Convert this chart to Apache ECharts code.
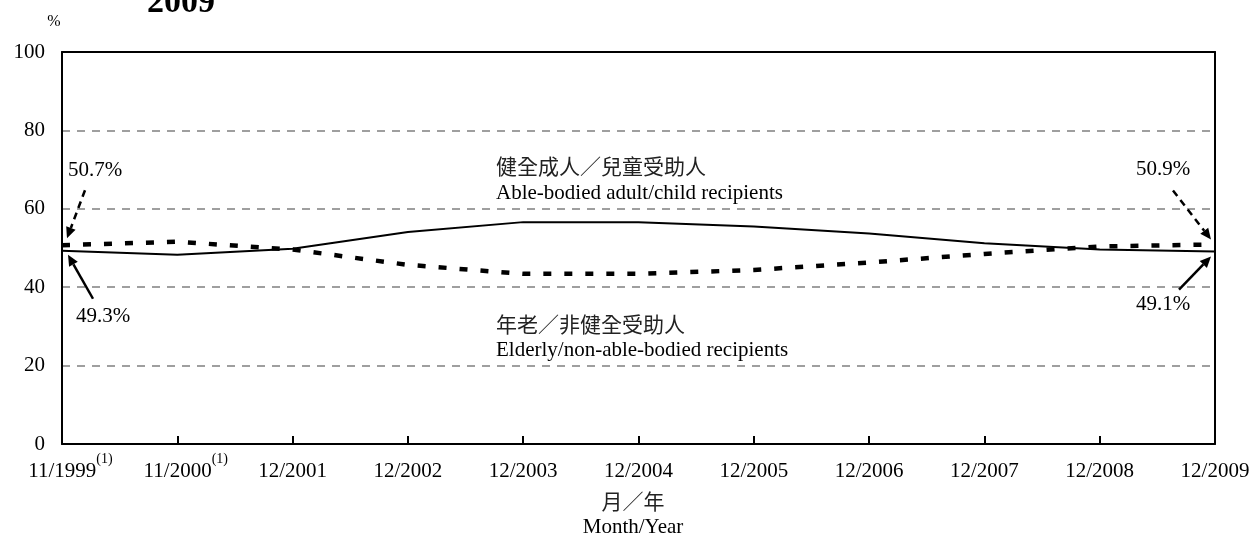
<!DOCTYPE html>
<html>
<head>
<meta charset="utf-8">
<script src="https://cdn.jsdelivr.net/npm/echarts@6/dist/echarts.min.js"></script>
<style>
html,body{margin:0;padding:0;background:#fff;}
#chart{width:1256px;height:543px;}
</style>
</head>
<body>
<div id="chart"></div>
<script>
// ---- data ----
const categories = ['11/1999','11/2000','12/2001','12/2002','12/2003','12/2004','12/2005','12/2006','12/2007','12/2008','12/2009'];
const footnoteMarks = ['(1)','(1)','','','','','','','','',''];
const ableBodied = [49.3, 48.3, 49.8, 54.1, 56.6, 56.6, 55.5, 53.7, 51.2, 49.6, 49.1];
const elderly    = [50.7, 51.6, 49.6, 45.7, 43.4, 43.4, 44.4, 46.3, 48.5, 50.4, 50.9];
const yMin = 0, yMax = 100, yStep = 20;
const seriesNames = ['健全成人／兒童受助人 Able-bodied adult/child recipients', '年老／非健全受助人 Elderly/non-able-bodied recipients'];

const SERIF = "'Liberation Serif','Times New Roman',serif";
const CJK = "'Noto Sans CJK TC','Noto Sans CJK SC',sans-serif";

const chart = echarts.init(document.getElementById('chart'), null, {renderer:'canvas'});

const option = {
  animation: false,
  backgroundColor: '#fff',
  grid: {left: 62, right: 41, top: 52, bottom: 99, containLabel: false},
  xAxis: [{
    type: 'category',
    data: categories,
    boundaryGap: false,
    axisLine: {show: true, lineStyle: {color: '#000', width: 2}},
    axisTick: {show: true, inside: true, length: 8, lineStyle: {color: '#000', width: 2}, alignWithLabel: true},
    splitLine: {show: false},
    axisLabel: {
      interval: 0,
      margin: 8,
      color: '#000',
      formatter: function (v, i) {
        const n = footnoteMarks[i];
        return n ? '{p|}{a|' + v + '}{s|' + n + '}' : '{q|}{a|' + v + '}';
      },
      rich: {
        a: {fontFamily: SERIF, fontSize: 21, color: '#000', lineHeight: 21, verticalAlign: 'bottom'},
        s: {fontFamily: SERIF, fontSize: 14, color: '#000', lineHeight: 14, verticalAlign: 'top'},
        p: {width: 17, height: 30, lineHeight: 30},
        q: {width: 0, height: 30, lineHeight: 30}
      }
    }
  }, {
    type: 'category',
    data: categories,
    boundaryGap: false,
    position: 'top',
    z: 5,
    axisLine: {show: true, onZero: false, lineStyle: {color: '#000', width: 2}},
    axisTick: {show: false},
    axisLabel: {show: false},
    splitLine: {show: false}
  }],
  yAxis: [{
    type: 'value',
    min: yMin, max: yMax, interval: yStep,
    axisLine: {show: true, lineStyle: {color: '#000', width: 2}},
    axisTick: {show: false},
    axisLabel: {color: '#000', fontFamily: SERIF, fontSize: 21, margin: 17},
    splitLine: {show: true, showMinLine: false, showMaxLine: false,
      lineStyle: {color: '#808080', width: 1.5, type: [8, 7]}}
  }, {
    type: 'value',
    min: yMin, max: yMax, interval: yStep,
    position: 'right',
    z: 5,
    axisLine: {show: true, onZero: false, lineStyle: {color: '#000', width: 2}},
    axisTick: {show: false},
    axisLabel: {show: false},
    splitLine: {show: false}
  }],
  series: [{
    name: seriesNames[0],
    type: 'line',
    data: ableBodied,
    symbol: 'none',
    smooth: false,
    z: 3,
    lineStyle: {color: '#000', width: 2, type: 'solid'}
  }, {
    name: seriesNames[1],
    type: 'line',
    data: elderly,
    symbol: 'none',
    smooth: false,
    z: 3,
    lineStyle: {color: '#000', width: 4.5, type: [8, 13], cap: 'butt'}
  }]
};
chart.setOption(option);

// ---- annotations, positioned from the data points ----
function px(seriesIndex, idx, val) {
  return chart.convertToPixel({seriesIndex: seriesIndex}, [idx, val]);
}
function arrow(tail, tip, dashed) {
  const dx = tip[0] - tail[0], dy = tip[1] - tail[1];
  const len = Math.sqrt(dx * dx + dy * dy);
  const ux = dx / len, uy = dy / len;
  const hl = 11, hw = 5;
  const base = [tip[0] - ux * hl, tip[1] - uy * hl];
  const left = [base[0] - uy * hw, base[1] + ux * hw];
  const right = [base[0] + uy * hw, base[1] - ux * hw];
  return [{
    type: 'polyline', z: 10,
    shape: {points: [tail, base]},
    style: {stroke: '#000', lineWidth: 2.5, lineDash: dashed ? [7, 5] : null, fill: null}
  }, {
    type: 'polygon', z: 10,
    shape: {points: [tip, left, right]},
    style: {fill: '#000', stroke: null}
  }];
}
function pctText(x, y, val) {
  return {type: 'text', z: 10, x: x, y: y,
    style: {text: val.toFixed(1) + '%', fontFamily: SERIF, fontSize: 21, fill: '#000',
      textAlign: 'left', textVerticalAlign: 'middle'}};
}
const last = categories.length - 1;
const pA0 = px(0, 0, ableBodied[0]);
const pE0 = px(1, 0, elderly[0]);
const pA1 = px(0, last, ableBodied[last]);
const pE1 = px(1, last, elderly[last]);

let g = [];
g = g.concat(arrow([pE0[0] + 23, pE0[1] - 55], [pE0[0] + 5, pE0[1] - 7], true));
g = g.concat(arrow([pA0[0] + 31, pA0[1] + 48], [pA0[0] + 6, pA0[1] + 4], false));
g = g.concat(arrow([pE1[0] - 42, pE1[1] - 54], [pE1[0] - 4, pE1[1] - 5], true));
g = g.concat(arrow([pA1[0] - 36, pA1[1] + 38], [pA1[0] - 4, pA1[1] + 5], false));
g.push(pctText(pE0[0] + 6, pE0[1] - 75, elderly[0]));
g.push(pctText(pA0[0] + 14, pA0[1] + 66, ableBodied[0]));
g.push(pctText(pE1[0] - 79, pE1[1] - 75, elderly[last]));
g.push(pctText(pA1[0] - 79, pA1[1] + 53, ableBodied[last]));

// series labels
g.push({type: 'text', z: 10, x: 496, y: 166,
  style: {text: '健全成人／兒童受助人', fontFamily: CJK, fontSize: 21, fill: '#222', textVerticalAlign: 'middle'}});
g.push({type: 'text', z: 10, x: 496, y: 193,
  style: {text: 'Able-bodied adult/child recipients', fontFamily: SERIF, fontSize: 21, fill: '#000', textVerticalAlign: 'middle'}});
g.push({type: 'text', z: 10, x: 496, y: 324,
  style: {text: '年老／非健全受助人', fontFamily: CJK, fontSize: 21, fill: '#222', textVerticalAlign: 'middle'}});
g.push({type: 'text', z: 10, x: 496, y: 350,
  style: {text: 'Elderly/non-able-bodied recipients', fontFamily: SERIF, fontSize: 21, fill: '#000', textVerticalAlign: 'middle'}});

// axis titles and header
g.push({type: 'text', z: 10, x: 633, y: 501,
  style: {text: '月／年', fontFamily: CJK, fontSize: 21, fill: '#222', textAlign: 'center', textVerticalAlign: 'middle'}});
g.push({type: 'text', z: 10, x: 633, y: 527,
  style: {text: 'Month/Year', fontFamily: SERIF, fontSize: 21, fill: '#000', textAlign: 'center', textVerticalAlign: 'middle'}});
g.push({type: 'text', z: 10, x: 54, y: 22,
  style: {text: '%', fontFamily: SERIF, fontSize: 16, fill: '#000', textAlign: 'center', textVerticalAlign: 'middle'}});
g.push({type: 'text', z: 10, x: 147, y: 3,
  style: {text: '2009', fontFamily: SERIF, fontSize: 34, fontWeight: 'bold', fill: '#000', textAlign: 'left', textVerticalAlign: 'middle'}});

chart.setOption({graphic: {elements: g}});
</script>
</body>
</html>
